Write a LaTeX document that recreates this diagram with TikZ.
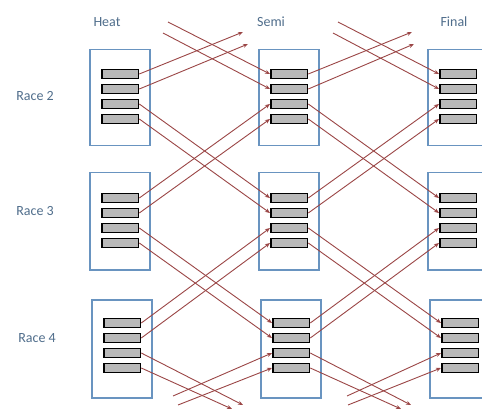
\documentclass[tikz,border=0pt]{standalone}
\usepackage{fontspec}
\setmainfont{Carlito}
\usetikzlibrary{arrows.meta}
\definecolor{boxblue}{RGB}{105,148,192}
\definecolor{txtblue}{RGB}{80,110,140}
\definecolor{arrred}{RGB}{155,70,70}
\definecolor{barfill}{RGB}{185,185,185}
\tikzset{
  racebox/.style={draw=boxblue, line width=1.5pt, rectangle, minimum width=60pt, anchor=north west, inner sep=0pt},
  bar/.style={draw=black, fill=barfill, line width=1.8pt, rectangle, minimum width=36.5pt, minimum height=9pt, inner sep=0pt, anchor=west},
  lbl/.style={text=txtblue, font=\fontsize{14}{16}\selectfont},
  conn/.style={draw=arrred, line width=0.9pt, -{Stealth[length=5pt,width=4pt]}}
}
\begin{document}
\begin{tikzpicture}[x=1pt,y=-1pt]
\useasboundingbox (0,0) rectangle (482,409);
\clip (0,0) rectangle (482,409);
\fill[white] (0,0) rectangle (482,409);
% labels
\node[lbl] (lheat) at (107,22) {Heat};
\node[lbl] (lsemi) at (271,22) {Semi};
\node[lbl] (lfinal) at (454,22) {Final};
\node[lbl] (lr2) at (35,96) {Race 2};
\node[lbl] (lr3) at (35,211) {Race 3};
\node[lbl] (lr4) at (37,338) {Race 4};
% boxes
\foreach \c/\bx in {h/89,s/258,f/427}{
  \node[racebox, minimum height=96pt] (box-\c-1) at (\bx,49) {};
  \node[racebox, minimum height=97pt] (box-\c-2) at (\bx,172) {};
  \node[racebox, minimum height=98pt] (box-\c-3) at (\bx+2,299) {};
}
% bars
\foreach \c/\bx in {h/101,s/270,f/439}{
  \foreach \b/\y in {1/74,2/89,3/104,4/119}{\node[bar] (\c-1-\b) at (\bx,\y) {};}
  \foreach \b/\y in {1/198,2/213,3/228,4/243}{\node[bar] (\c-2-\b) at (\bx,\y) {};}
  \foreach \b/\y in {1/323,2/338,3/353,4/368}{\node[bar] (\c-3-\b) at (\bx+2,\y) {};}
}
% free ends
\coordinate (hA1) at (243,32);  \coordinate (hA2) at (248,44);
\coordinate (hB1) at (168,22);  \coordinate (hB2) at (163,33);
\coordinate (hC1) at (243,405); \coordinate (hC2) at (232,409);
\coordinate (hD1) at (173,396); \coordinate (hD2) at (178,405);
\coordinate (sA1) at (412,32);  \coordinate (sA2) at (414,44);
\coordinate (sB1) at (338,22);  \coordinate (sB2) at (333,33);
\coordinate (sC1) at (411,405); \coordinate (sC2) at (401,409);
\coordinate (sD1) at (347,396); \coordinate (sD2) at (348,405);
% connectors
\foreach \c/\n in {h/s,s/f}{
  \draw[conn] (\c-1-1.east) -- (\c A1);
  \draw[conn] (\c-1-2.east) -- (\c A2);
  \draw[conn] (\c B1) -- (\n-1-1.west);
  \draw[conn] (\c B2) -- (\n-1-2.west);
  \draw[conn] (\c-1-3.east) -- (\n-2-1.west);
  \draw[conn] (\c-1-4.east) -- (\n-2-2.west);
  \draw[conn] (\c-2-1.east) -- (\n-1-3.west);
  \draw[conn] (\c-2-2.east) -- (\n-1-4.west);
  \draw[conn] (\c-2-3.east) -- (\n-3-1.west);
  \draw[conn] (\c-2-4.east) -- (\n-3-2.west);
  \draw[conn] (\c-3-1.east) -- (\n-2-3.west);
  \draw[conn] (\c-3-2.east) -- (\n-2-4.west);
  \draw[conn] (\c-3-3.east) -- (\c C1);
  \draw[conn] (\c-3-4.east) -- (\c C2);
  \draw[conn] (\c D1) -- (\n-3-3.west);
  \draw[conn] (\c D2) -- (\n-3-4.west);
}
\end{tikzpicture}
\end{document}
